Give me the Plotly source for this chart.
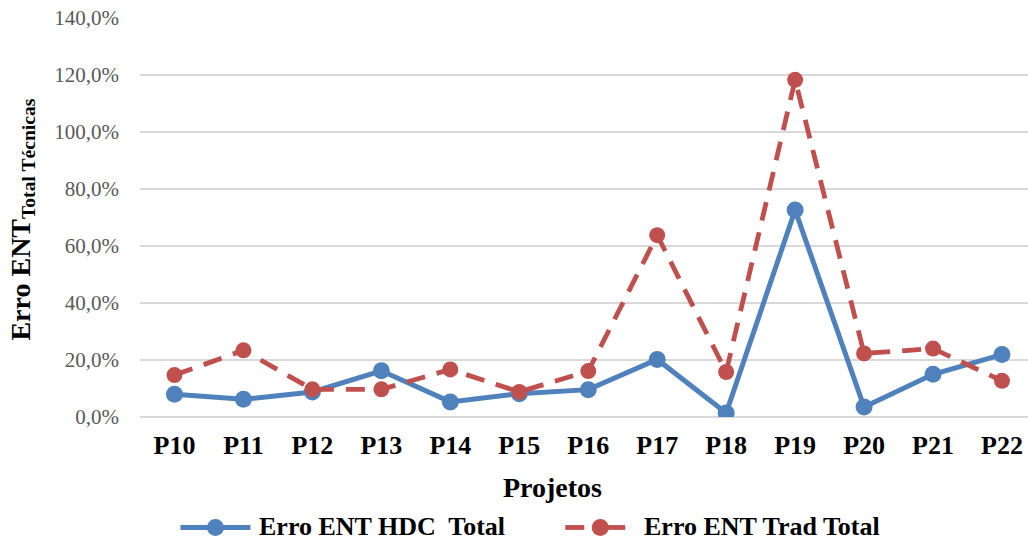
import plotly.graph_objects as go

# Projects on the category axis
projetos = ["P10", "P11", "P12", "P13", "P14", "P15", "P16",
            "P17", "P18", "P19", "P20", "P21", "P22"]

# Total ENT error per project (fractions, shown as percentages)
erro_hdc = [0.080, 0.062, 0.088, 0.162, 0.053, 0.082, 0.096,
            0.202, 0.014, 0.726, 0.035, 0.150, 0.219]
erro_trad = [0.147, 0.234, 0.097, 0.097, 0.167, 0.088, 0.161,
             0.638, 0.158, 1.183, 0.223, 0.240, 0.127]

y_ticks = [0.0, 0.2, 0.4, 0.6, 0.8, 1.0, 1.2, 1.4]

serie_hdc = "Erro ENT HDC&nbsp; Total"
serie_trad = "Erro ENT Trad Total"

AZUL = "#4F81BD"
VERMELHO = "#C0504D"
GRADE = "#D9D9D9"
FONTE = "'Liberation Serif', 'Times New Roman', 'DejaVu Serif', serif"

W, H = 1028, 540
L, T = 139.5, 18.3
B = H - 416.7
R = 0
PW = W - L - R
PH = H - T - B


def px_x(px):
    """Pixel column -> paper x."""
    return (px - L) / PW


def px_y(py):
    """Pixel row -> paper y."""
    return (H - B - py) / PH


fig = go.Figure()

fig.add_trace(go.Scatter(
    x=projetos, y=erro_hdc, name=serie_hdc, mode="lines+markers",
    line=dict(color=AZUL, width=5),
    marker=dict(color=AZUL, size=17),
))
fig.add_trace(go.Scatter(
    x=projetos, y=erro_trad, name=serie_trad, mode="lines+markers",
    line=dict(color=VERMELHO, width=4.8, dash="19px,12px"),
    marker=dict(color=VERMELHO, size=16),
))

fig.update_layout(
    width=W, height=H,
    margin=dict(l=L, r=R, t=T, b=B, pad=0),
    paper_bgcolor="white", plot_bgcolor="white",
    showlegend=False,
    separators=",.",
    font=dict(family=FONTE, color="black"),
)

fig.update_xaxes(
    type="category",
    range=[-0.5, 12.377],
    showgrid=False, showline=False, zeroline=False,
    ticks="",
    tickfont=dict(family=FONTE, size=26, color="black", weight="bold"),
    ticklabelstandoff=10,
)

fig.update_yaxes(
    range=[0, 1.4],
    tickvals=y_ticks,
    tickformat=".1%",
    showgrid=True, gridcolor=GRADE, gridwidth=1.5,
    zeroline=True, zerolinecolor=GRADE, zerolinewidth=1.5,
    showline=False, ticks="",
    tickfont=dict(family=FONTE, size=21, color="#595959"),
    ticklabelstandoff=20,
)

annotations = [
    # y-axis title with subscript
    dict(text="<b>Erro ENT<sub>Total Técnicas</sub></b>",
         x=px_x(21), y=px_y(220), xref="paper", yref="paper",
         xanchor="center", yanchor="middle", textangle=-90,
         showarrow=False, font=dict(family=FONTE, size=28, color="black")),
    # x-axis title
    dict(text="<b>Projetos</b>",
         x=px_x(552), y=px_y(487), xref="paper", yref="paper",
         xanchor="center", yanchor="middle",
         showarrow=False, font=dict(family=FONTE, size=28, color="black")),
    # legend labels
    dict(text="<b>" + serie_hdc + "</b>",
         x=px_x(257), y=px_y(526), xref="paper", yref="paper",
         xanchor="left", yanchor="middle",
         showarrow=False, font=dict(family=FONTE, size=26, color="black")),
    dict(text="<b>" + serie_trad + "</b>",
         x=px_x(642), y=px_y(526), xref="paper", yref="paper",
         xanchor="left", yanchor="middle",
         showarrow=False, font=dict(family=FONTE, size=26, color="black")),
]

ly = px_y(527)
shapes = [
    # legend key: solid blue line
    dict(type="line", xref="paper", yref="paper",
         x0=px_x(180), x1=px_x(250), y0=ly, y1=ly,
         line=dict(color=AZUL, width=5)),
    # legend key: dashed red line
    dict(type="line", xref="paper", yref="paper",
         x0=px_x(565), x1=px_x(584), y0=ly, y1=ly,
         line=dict(color=VERMELHO, width=4.8)),
    dict(type="line", xref="paper", yref="paper",
         x0=px_x(606), x1=px_x(625), y0=ly, y1=ly,
         line=dict(color=VERMELHO, width=4.8)),
]
for cx, cor in ((215, AZUL), (600, VERMELHO)):
    shapes.append(dict(type="circle", xref="paper", yref="paper",
                       x0=px_x(cx - 8.5), x1=px_x(cx + 8.5),
                       y0=ly - 8.5 / PH, y1=ly + 8.5 / PH,
                       fillcolor=cor, line=dict(color=cor, width=0)))

fig.update_layout(annotations=annotations, shapes=shapes)

fig.write_html("out.html")
